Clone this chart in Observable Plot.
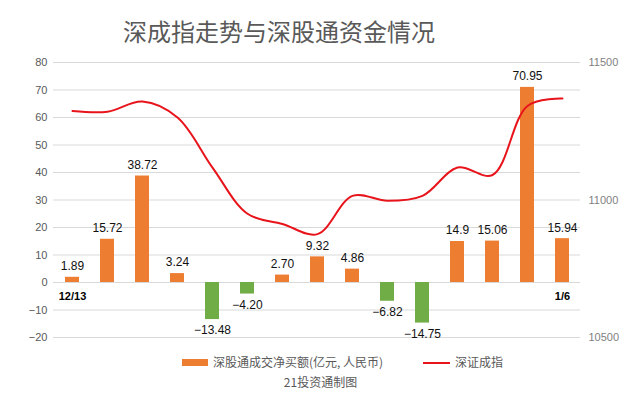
<!DOCTYPE html>
<html><head><meta charset="utf-8">
<script src="https://cdn.jsdelivr.net/npm/d3@7"></script>
<script src="https://cdn.jsdelivr.net/npm/@observablehq/plot@0.6"></script>
<style>
html,body{margin:0;padding:0;background:#fff;}
#wrap{position:relative;width:637px;height:398px;overflow:hidden;font-family:"Liberation Sans","Noto Sans CJK SC",sans-serif;}
#title{position:absolute;left:0;width:558px;top:15px;text-align:center;font-size:24px;color:#595959;font-family:"Noto Sans CJK SC",sans-serif;line-height:32px;}
#chart{position:absolute;left:0;top:0;}
.leg{position:absolute;font-size:12px;color:#595959;font-family:"Noto Sans CJK SC",sans-serif;line-height:16px;white-space:nowrap;}
</style></head>
<body><div id="wrap">
<div id="chart"></div>
<div id="title">深成指走势与深股通资金情况</div>
<div class="leg" style="left:182px;top:354px;"><span style="display:inline-block;width:26px;height:7px;background:#ED7D31;vertical-align:middle;margin-right:5px;position:relative;top:-1px"></span>深股通成交净买额(亿元, 人民币)</div>
<div class="leg" style="left:423px;top:354px;"><span style="display:inline-block;width:27px;height:2px;background:#E8141B;vertical-align:middle;margin-right:5px;position:relative;top:-1px"></span>深证成指</div>
<div class="leg" style="left:0;width:641px;text-align:center;top:374px;">21投资通制图</div>
</div>
<script>
const dates = ["12/13","12/16","12/17","12/18","12/19","12/20","12/23","12/24","12/26","12/27","12/30","12/31","1/2","1/3","1/6"];
const netBuy = [1.89, 15.72, 38.72, 3.24, -13.48, -4.20, 2.70, 9.32, 4.86, -6.82, -14.75, 14.9, 15.06, 70.95, 15.94];
const netLabels = ["1.89","15.72","38.72","3.24","−13.48","−4.20","2.70","9.32","4.86","−6.82","−14.75","14.9","15.06","70.95","15.94"];
const szIndex = [11324, 11321, 11358, 11300, 11118, 10950, 10913, 10876, 11015, 10997, 11015, 11118, 11091, 11342, 11369];
const leftTicks = [-20,-10,0,10,20,30,40,50,60,70,80];
const rightTicks = [10500, 11000, 11500];
const shownDates = ["12/13", "1/6"];

const leftDomain = [-20, 80];
const rightDomain = [10500, 11500];
const toLeft = v => leftDomain[0] + (v - rightDomain[0]) / (rightDomain[1] - rightDomain[0]) * (leftDomain[1] - leftDomain[0]);

const bars = dates.map((d, i) => ({date: d, v: netBuy[i], label: netLabels[i]}));
const line = dates.map((d, i) => ({date: d, v: toLeft(szIndex[i])}));

const chart = Plot.plot({
  width: 637, height: 398,
  marginLeft: 53, marginRight: 57, marginTop: 62, marginBottom: 61,
  style: {fontFamily: '"Liberation Sans","Noto Sans CJK SC",sans-serif', fontSize: "11px", background: "transparent"},
  x: {type: "band", domain: dates, paddingInner: 0.6, paddingOuter: 0.3, axis: null},
  y: {domain: leftDomain, axis: null},
  marks: [
    Plot.ruleY(leftTicks, {stroke: "#D9D9D9", strokeWidth: 1}),
    Plot.axisY({anchor: "left", label: null, ticks: leftTicks, tickSize: 0, tickPadding: 6, color: "#595959", fontSize: 11}),
    Plot.axisY({anchor: "right", label: null, ticks: rightTicks.map(toLeft), tickFormat: (d, i) => String(rightTicks[i]), tickSize: 0, tickPadding: 8, color: "#7f7f7f", fontSize: 11}),
    Plot.barY(bars, {x: "date", y: "v", fill: d => d.v >= 0 ? "#ED7D31" : "#70AD47"}),
    Plot.line(line, {x: "date", y: "v", stroke: "#E8141B", strokeWidth: 2, curve: "catmull-rom"}),
    Plot.text(bars.filter(d => d.v >= 0), {x: "date", y: "v", text: "label", dy: -11, fill: "#111", fontSize: 12}),
    Plot.text(bars.filter(d => d.v < 0), {x: "date", y: "v", text: "label", dy: 11, fill: "#111", fontSize: 12}),
    Plot.text(shownDates, {x: d => d, y: () => 0, dy: 14, text: d => d, fontWeight: "bold", fill: "#000", fontSize: 11})
  ]
});
document.getElementById("chart").appendChild(chart);
</script>
</body></html>
